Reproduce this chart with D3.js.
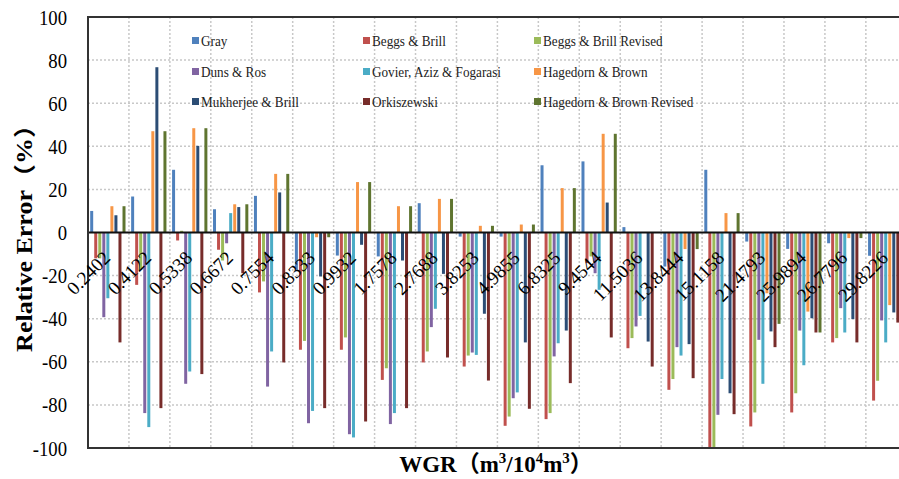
<!DOCTYPE html>
<html lang="en">
    <head>
        <meta charset="UTF-8" />
        <title>Relative Error by WGR</title>
        <script src="https://d3js.org/d3.v7.min.js"></script>
        <style>
            body {
                margin: 0;
                background: #fff;
            }
            svg {
                display: block;
            }
            svg text {
                font-family: "Liberation Serif", "Noto Sans CJK SC", serif;
            }
            .grid line {
                stroke: #c8c8c8;
                stroke-width: 1.5;
                stroke-dasharray: 2, 2;
            }
            .legend text {
                font-size: 15.5px;
                fill: #222;
            }
        </style>
    </head>
    <body>
        <svg id="chart" width="899" height="479"></svg>

        <script>
            const categories = [
                "0.2402", "0.4122", "0.5338", "0.6672", "0.7554",
                "0.8333", "0.9932", "1.7578", "2.7688", "3.8253",
                "4.9855", "6.8325", "9.4544", "11.5036", "13.8444",
                "15.1158", "21.4793", "25.9894", "26.7796", "29.8226",
            ];
            const seriesNames = [
                "Gray", "Beggs & Brill", "Beggs & Brill Revised",
                "Duns & Ros", "Govier, Aziz & Fogarasi", "Hagedorn & Brown",
                "Mukherjee & Brill", "Orkiszewski", "Hagedorn & Brown Revised",
            ];
            const seriesColors = [
                "#4F81BD", "#C0504D", "#9BBB59",
                "#8064A2", "#4BACC6", "#F79646",
                "#2C4D75", "#772C2A", "#5F7530",
            ];
            const yTicks = [-100, -80, -60, -40, -20, 0, 20, 40, 60, 80, 100];

            const gray = [10, 16.7, 29.1, 10.8, 17, -18, -10.7, -11.1, 13.6, -1.9, -1.9, 31.2, 33, 2.5, -15.8, 29.1, -4.2, -7.6, -5, -10.8];
            const beggsBrill = [-12, -24.3, -3.7, -8, -27.8, -54.4, -54.4, -68.4, -60.3, -62.2, -89.7, -86.6, -14.2, -53.7, -73, -100, -90, -83.5, -51, -78];
            const beggsBrillRevised = [-12, -17.3, 0.8, -13, -22.7, -50.3, -48.7, -63, -55.2, -57.1, -85.4, -83.8, -11.1, -49, -68, -100, -83.5, -74.6, -49, -68.8];
            const dunsRos = [-39.3, -83.8, -70.2, -5, -71.5, -88.5, -93.6, -88.9, -43.9, -55.7, -76.9, -57.5, -18.9, -43.6, -53.2, -84.6, -49.8, -45.5, -35.1, -40.8];
            const govierAzizFogarasi = [-30.5, -90.3, -64.5, 9, -55.2, -82.8, -95.1, -83.8, -35.4, -56.8, -74.2, -51.4, -26.6, -38.7, -57.1, -68, -70.2, -61.6, -46.4, -51];
            const hagedornBrown = [12.2, 47, 48.4, 13.1, 27.2, -2.2, 23.4, 12.2, 15.6, 3.1, 3.7, 20.6, 45.8, 0, -7.7, 9, -28.2, -36.7, -2.6, -33.7];
            const mukherjeeBrill = [8, 76.7, 40.2, 11.8, 18.6, -20.4, -5.7, -13, -19.2, -37.7, -51, -45.5, 13.9, -50.6, -51.8, -74.6, -45.9, -39.8, -40.2, -37.1];
            const orkiszewski = [-51, -81.5, -65.7, -18.9, -60.3, -81.5, -87.7, -81.5, -58, -68.7, -81.8, -69.9, -48.7, -62.2, -67.6, -84.3, -53.2, -46.4, -51, -41.8];
            const hagedornBrownRevised = [12.2, 47, 48.4, 13.1, 27.2, -2.2, 23.4, 12.2, 15.6, 3.1, 3.7, 20.6, 45.8, 0, -7.7, 9, -42.4, -46.4, -2.6, -42];

            const seriesValues = [
                gray, beggsBrill, beggsBrillRevised,
                dunsRos, govierAzizFogarasi, hagedornBrown,
                mukherjeeBrill, orkiszewski, hagedornBrownRevised,
            ];

            // plot area runs past the right edge of the picture, like the original
            const plot = { left: 88, top: 17, bottom: 448, step: 40.94 };
            plot.right = plot.left + plot.step * categories.length;

            const serif = "'Liberation Serif', 'Noto Sans CJK SC', serif";
            // the source picture was squeezed sideways a bit
            const squeeze = 0.85;
            const svg = d3.select("#chart");

            svg.append("defs")
                .append("clipPath")
                .attr("id", "plotClip")
                .append("rect")
                .attr("x", plot.left)
                .attr("y", plot.top)
                .attr("width", plot.right - plot.left)
                .attr("height", plot.bottom - plot.top);

            const x0 = d3
                .scaleBand()
                .domain(categories)
                .range([plot.left, plot.right])
                .padding(0);
            const x1 = d3
                .scaleBand()
                .domain(seriesNames)
                .range([2.2, 37.5])
                .paddingInner(0.26);
            const y = d3
                .scaleLinear()
                .domain([-100, 100])
                .range([plot.bottom, plot.top]);

            // dotted grid
            const grid = svg.append("g").attr("class", "grid");
            grid.selectAll(".hgrid")
                .data(yTicks.filter((d) => d !== 0 && Math.abs(d) !== 100))
                .enter()
                .append("line")
                .attr("x1", plot.left)
                .attr("x2", plot.right)
                .attr("y1", (d) => y(d))
                .attr("y2", (d) => y(d));
            grid.selectAll(".vgrid")
                .data(categories.slice(1))
                .enter()
                .append("line")
                .attr("x1", (d) => x0(d))
                .attr("x2", (d) => x0(d))
                .attr("y1", plot.top)
                .attr("y2", plot.bottom);

            // legend (no background, grid shows through)
            const legend = svg.append("g").attr("class", "legend");
            const legendCols = [192, 363, 534];
            const legendRows = [41, 72, 102];
            seriesNames.forEach((name, i) => {
                const lx = legendCols[i % 3];
                const ly = legendRows[Math.floor(i / 3)];
                legend.append("rect")
                    .attr("x", lx)
                    .attr("y", ly - 4)
                    .attr("width", 7)
                    .attr("height", 7)
                    .attr("fill", seriesColors[i]);
                legend.append("text")
                    .attr(
                        "transform",
                        `translate(${lx + 9},${ly + 5}) scale(${squeeze},1)`
                    )
                    .style("font-family", serif)
                    .text(name);
            });

            // bars
            const bars = svg.append("g").attr("clip-path", "url(#plotClip)");
            seriesNames.forEach((name, s) => {
                bars.append("g")
                    .attr("fill", seriesColors[s])
                    .selectAll("rect")
                    .data(seriesValues[s])
                    .enter()
                    .append("rect")
                    .attr("x", (d, i) => x0(categories[i]) + x1(name))
                    .attr("y", (d) => y(Math.max(0, d)))
                    .attr("width", x1.bandwidth())
                    .attr("height", (d) => Math.abs(y(d) - y(0)));
            });

            // zero line
            svg.append("line")
                .attr("x1", plot.left)
                .attr("x2", plot.right)
                .attr("y1", y(0))
                .attr("y2", y(0))
                .attr("stroke", "#111")
                .attr("stroke-width", 2);

            // plot border
            svg.append("rect")
                .attr("x", plot.left)
                .attr("y", plot.top)
                .attr("width", plot.right - plot.left)
                .attr("height", plot.bottom - plot.top)
                .attr("fill", "none")
                .attr("stroke", "#333")
                .attr("stroke-width", 2);

            // y axis labels, plain hyphen minus like the original
            const yAxis = svg
                .append("g")
                .attr("transform", `translate(${plot.left},0)`)
                .call(
                    d3
                        .axisLeft(y)
                        .tickValues(yTicks)
                        .tickSize(0)
                        .tickPadding(21 / squeeze)
                        .tickFormat((d) => String(d))
                );
            yAxis.select(".domain").remove();
            yAxis
                .selectAll("text")
                .attr("transform", `scale(${squeeze},1)`)
                .style("font-family", serif)
                .style("font-size", "22px")
                .attr("fill", "#000");

            // rotated category labels sitting just under the zero line
            svg.append("g")
                .selectAll("text")
                .data(categories)
                .enter()
                .append("text")
                .attr(
                    "transform",
                    (d) =>
                        `translate(${x0(d) + x0.bandwidth() / 2 + 3},259) rotate(-45)`
                )
                .attr("text-anchor", "end")
                .style("font-family", serif)
                .style("font-size", "19px")
                .attr("fill", "#000")
                .text((d) => d);

            // axis titles
            svg.append("text")
                .attr(
                    "transform",
                    `translate(32,232) scale(${squeeze},1) rotate(-90)`
                )
                .attr("text-anchor", "middle")
                .style("font-size", "26px")
                .style("font-weight", "bold")
                .style("font-family", serif)
                .text("Relative Error（%）");

            const xTitle = svg
                .append("text")
                .attr("x", 496)
                .attr("y", 472)
                .attr("text-anchor", "middle")
                .style("font-size", "23px")
                .style("font-weight", "bold")
                .style("font-family", serif);
            xTitle.append("tspan").text("WGR（m");
            xTitle.append("tspan").attr("dy", -9).style("font-size", "15px").text("3");
            xTitle.append("tspan").attr("dy", 9).text("/10");
            xTitle.append("tspan").attr("dy", -9).style("font-size", "15px").text("4");
            xTitle.append("tspan").attr("dy", 9).text("m");
            xTitle.append("tspan").attr("dy", -9).style("font-size", "15px").text("3");
            xTitle.append("tspan").attr("dy", 9).text("）");
        </script>
    </body>
</html>
